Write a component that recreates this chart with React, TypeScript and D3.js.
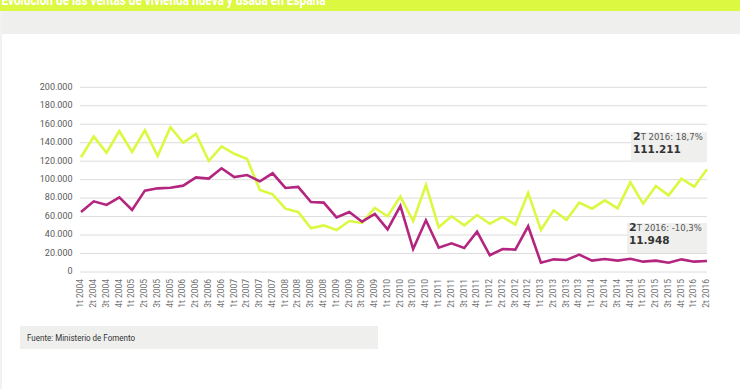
import * as d3 from "d3";

// ventas trimestrales de vivienda (unidades)
const years = [2004, 2005, 2006, 2007, 2008, 2009, 2010, 2011, 2012, 2013, 2014, 2015, 2016];
const quarterNames = ["1t", "2t", "3t", "4t"];
const quarters = years.flatMap((y) => quarterNames.map((q) => `${q} ${y}`)).slice(0, 50);

const usada = [
  124200, 146600, 129200, 152700, 130000, 153400, 125600, 156700, 140000, 149500, 120200, 136000, 128000,
  122400, 88800, 84100, 68600, 65000, 47300, 50500, 45500, 55200, 53100, 69300, 60400, 81600, 55200,
  94200, 48400, 60300, 50500, 61700, 52300, 59600, 51300, 85600, 45500, 66800, 56300, 75100, 68600,
  77600, 69000, 97100, 74000, 93100, 83000, 101100, 92400, 111211,
];

const nueva = [
  65000, 76500, 72600, 80900, 67100, 88100, 90600, 91300, 93500, 102500, 101100, 112300, 102700,
  105000, 98200, 106900, 91000, 92100, 75800, 75100, 59200, 65000, 54500, 62800, 46200, 71500, 24900,
  56000, 26400, 31000, 26000, 43700, 18100, 24900, 24200, 49500, 10100, 13700, 13000, 18800, 12300,
  14100, 12300, 14400, 11200, 12300, 10100, 13700, 11200, 11948,
];

const yTicks = [0, 20000, 40000, 60000, 80000, 100000, 120000, 140000, 160000, 180000, 200000];

const notes = [
  { series: usada, change: "18,7%", value: "111.211", width: 76, gap: 7 },
  { series: nueva, change: "-10,3%", value: "11.948", width: 80, gap: 8 },
];

const W = 740;
const H = 389;
const LIME = "#dcf840";
const MAGENTA = "#b3257f";

export default function App() {
  const x = d3.scalePoint<string>().domain(quarters).range([81, 707]);
  const y = d3.scaleLinear().domain([0, 200000]).range([272, 87.3]);
  const fmt = (v: number) => d3.format(",")(v).replace(/,/g, ".");

  const line = d3
    .line<number>()
    .x((_, i) => x(quarters[i]) as number)
    .y((d) => y(d));

  const lastX = x(quarters[quarters.length - 1]) as number;

  return (
    <>
      <style>{`body{margin:0}`}</style>
      <svg width={W} height={H} style={{ display: "block", background: "#fff" }}>
        {/* cabecera (recortada por arriba, como en el original) */}
        <rect x={0} y={0} width={W} height={11} fill={LIME} />
        <text
          x={1.5}
          y={5}
          fill="#fff"
          fontFamily="Roboto"
          fontWeight={700}
          fontSize={14}
          textLength={324}
          lengthAdjust="spacingAndGlyphs"
        >
          Evolución de las ventas de vivienda nueva y usada en España
        </text>
        <rect x={2} y={11} width={W - 2} height={23} fill="#eff0ee" />
        <line x1={1} x2={1} y1={11} y2={H} stroke="#e4e4e4" />

        {/* rejilla y eje y */}
        {yTicks.map((t) => (
          <g key={t}>
            <line x1={80} x2={707} y1={y(t)} y2={y(t)} stroke="#dcdcdc" strokeWidth={1} />
            <text
              x={72.5}
              y={y(t)}
              textAnchor="end"
              dominantBaseline="middle"
              fontFamily="Roboto"
              fontSize={9}
              fill="#5a5a5a"
            >
              {t === 0 ? "0" : fmt(t)}
            </text>
          </g>
        ))}

        {/* eje x */}
        {quarters.map((q) => (
          <text
            key={q}
            transform={`translate(${x(q)},279) rotate(-90)`}
            textAnchor="end"
            dominantBaseline="middle"
            fontFamily="Roboto"
            fontSize={8.5}
            fill="#707070"
          >
            {q}
          </text>
        ))}

        <path d={line(usada) ?? ""} fill="none" stroke={LIME} strokeWidth={2.6} strokeLinejoin="miter" />
        <path d={line(nueva) ?? ""} fill="none" stroke={MAGENTA} strokeWidth={2.6} strokeLinejoin="miter" />

        {/* anotaciones del último trimestre */}
        {notes.map((n) => {
          const bottom = y(n.series[n.series.length - 1]) - n.gap;
          const left = lastX - n.width;
          return (
            <g key={n.value}>
              <rect x={left} y={bottom - 30} width={n.width} height={30} fill="#eff0ee" />
              <text x={left + 2} y={bottom - 22} fontFamily="DejaVu Sans" fill="#555">
                <tspan fontWeight={700} fontSize={11} fill="#333">
                  2
                </tspan>
                <tspan fontSize={8.5}>T 2016: {n.change}</tspan>
              </text>
              <text x={left + 2} y={bottom - 9} fontFamily="DejaVu Sans" fontWeight={700} fontSize={10.5} fill="#333">
                {n.value}
              </text>
            </g>
          );
        })}

        {/* fuente */}
        <rect x={20} y={326} width={358} height={23} fill="#eff0ee" />
        <text
          x={27}
          y={340.5}
          fontFamily="Roboto"
          fontSize={9}
          fill="#333"
          textLength={108}
          lengthAdjust="spacingAndGlyphs"
        >
          Fuente: Ministerio de Fomento
        </text>
      </svg>
    </>
  );
}
